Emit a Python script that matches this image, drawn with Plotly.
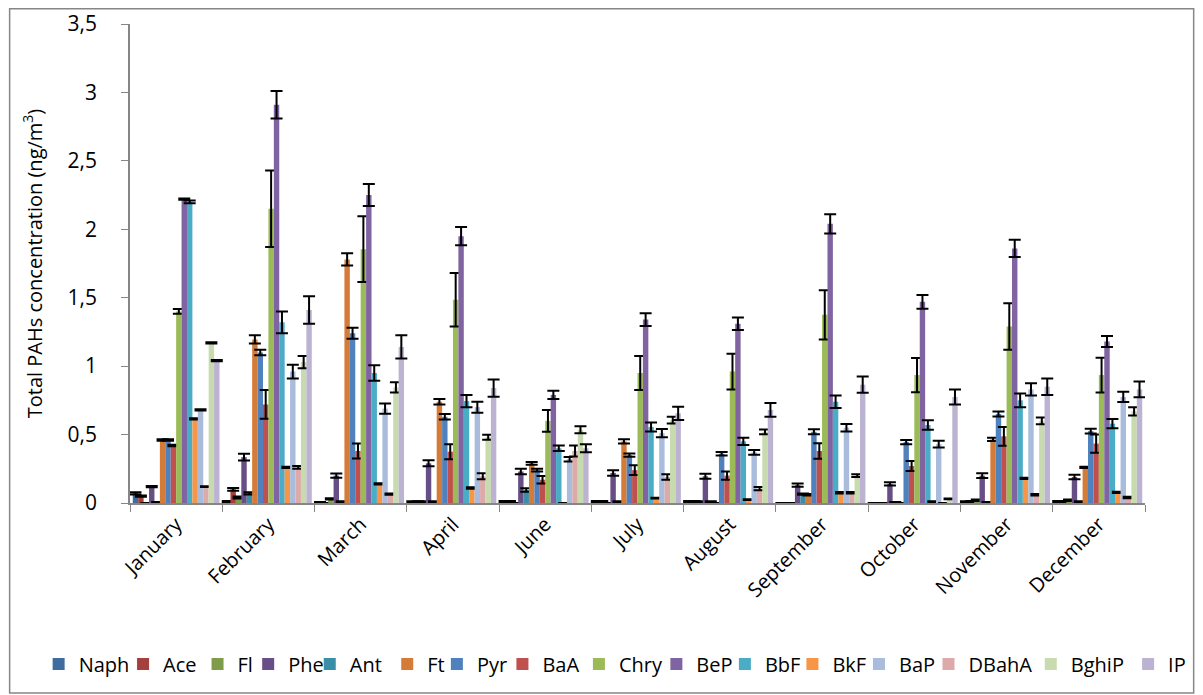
import plotly.graph_objects as go

months = ["January", "February", "March", "April", "June", "July", "August",
          "September", "October", "November", "December"]

series_names = ["Naph", "Ace", "Fl", "Phe", "Ant", "Ft", "Pyr", "BaA", "Chry",
                "BeP", "BbF", "BkF", "BaP", "DBahA", "BghiP", "IP"]

colors = ["#3F6C9E", "#A5403D", "#7E9C49", "#674F86", "#3A8FA6", "#D57B38",
          "#4F81BD", "#C0504D", "#9BBB59", "#8064A2", "#4BACC6", "#F79646",
          "#A9BCDC", "#DCAAA9", "#C8DBAE", "#BCB2D1"]

Naph = [0.07, 0.01, 0.005, 0.01, 0.01, 0.01, 0.01, 0.0, 0.0, 0.01, 0.01]
Ace = [0.05, 0.10, 0.0, 0.01, 0.01, 0.01, 0.01, 0.0, 0.0, 0.01, 0.01]
Fl = [0.0, 0.04, 0.03, 0.01, 0.0, 0.0, 0.01, 0.0, 0.0, 0.02, 0.02]
Phe = [0.12, 0.335, 0.20, 0.29, 0.23, 0.22, 0.195, 0.13, 0.14, 0.20, 0.19]
Ant = [0.005, 0.07, 0.01, 0.01, 0.095, 0.01, 0.01, 0.065, 0.005, 0.005, 0.01]
Ft = [0.46, 1.195, 1.78, 0.74, 0.29, 0.45, 0.0, 0.06, 0.0, 0.465, 0.26]
Pyr = [0.46, 1.10, 1.24, 0.63, 0.24, 0.35, 0.36, 0.52, 0.445, 0.65, 0.525]
BaA = [0.42, 0.72, 0.38, 0.375, 0.17, 0.24, 0.20, 0.38, 0.27, 0.487, 0.434]
Chry = [1.40, 2.15, 1.855, 1.485, 0.60, 0.95, 0.96, 1.375, 0.935, 1.29, 0.935]
BeP = [2.22, 2.91, 2.25, 1.95, 0.79, 1.34, 1.31, 2.04, 1.47, 1.86, 1.18]
BbF = [2.20, 1.32, 0.95, 0.745, 0.40, 0.555, 0.45, 0.74, 0.57, 0.75, 0.58]
BkF = [0.615, 0.26, 0.14, 0.11, 0.0, 0.035, 0.025, 0.075, 0.01, 0.18, 0.078]
BaP = [0.68, 0.96, 0.69, 0.70, 0.32, 0.51, 0.37, 0.55, 0.43, 0.83, 0.775]
DBahA = [0.12, 0.26, 0.065, 0.195, 0.38, 0.19, 0.105, 0.075, 0.0, 0.06, 0.04]
BghiP = [1.17, 1.03, 0.845, 0.48, 0.535, 0.605, 0.52, 0.20, 0.03, 0.60, 0.67]
IP = [1.04, 1.41, 1.14, 0.84, 0.40, 0.655, 0.68, 0.865, 0.775, 0.85, 0.83]

Naph_err = [0.008, 0.005, 0.003, 0.003, 0.005, 0.005, 0.005, 0, 0, 0.003, 0.005]
Ace_err = [0.005, 0.01, 0, 0.003, 0.005, 0.005, 0.005, 0, 0, 0.005, 0.005]
Fl_err = [0, 0.008, 0.005, 0.003, 0, 0, 0.003, 0, 0, 0.005, 0.005]
Phe_err = [0.005, 0.025, 0.015, 0.022, 0.02, 0.02, 0.018, 0.012, 0.012, 0.018, 0.017]
Ant_err = [0.003, 0.008, 0.003, 0.003, 0.012, 0.003, 0.003, 0.005, 0.003, 0.003, 0.003]
Ft_err = [0.005, 0.03, 0.045, 0.02, 0.01, 0.015, 0, 0.005, 0, 0.012, 0.005]
Pyr_err = [0.005, 0.02, 0.04, 0.02, 0.01, 0.012, 0.013, 0.018, 0.016, 0.018, 0.017]
BaA_err = [0.005, 0.105, 0.055, 0.055, 0.027, 0.035, 0.03, 0.056, 0.037, 0.068, 0.067]
Chry_err = [0.018, 0.28, 0.24, 0.195, 0.08, 0.125, 0.13, 0.18, 0.125, 0.17, 0.127]
BeP_err = [0.005, 0.10, 0.08, 0.067, 0.03, 0.046, 0.046, 0.07, 0.05, 0.063, 0.04]
BbF_err = [0.01, 0.08, 0.057, 0.045, 0.02, 0.033, 0.027, 0.045, 0.035, 0.05, 0.033]
BkF_err = [0.005, 0.005, 0.005, 0.005, 0, 0.003, 0.003, 0.005, 0.003, 0.005, 0.005]
BaP_err = [0.005, 0.05, 0.037, 0.04, 0.016, 0.03, 0.018, 0.028, 0.025, 0.045, 0.037]
DBahA_err = [0.003, 0.01, 0.005, 0.022, 0.04, 0.02, 0.012, 0.005, 0, 0.005, 0.005]
BghiP_err = [0.005, 0.045, 0.037, 0.018, 0.025, 0.025, 0.017, 0.01, 0.003, 0.025, 0.03]
IP_err = [0.005, 0.10, 0.085, 0.063, 0.03, 0.048, 0.05, 0.06, 0.055, 0.06, 0.057]

values = [Naph, Ace, Fl, Phe, Ant, Ft, Pyr, BaA, Chry, BeP, BbF, BkF, BaP, DBahA, BghiP, IP]
errors = [Naph_err, Ace_err, Fl_err, Phe_err, Ant_err, Ft_err, Pyr_err, BaA_err, Chry_err,
          BeP_err, BbF_err, BkF_err, BaP_err, DBahA_err, BghiP_err, IP_err]

# screen pixel x where each legend label starts (layout only)
legend_text_px = [74, 159, 234, 285, 347, 425, 475, 541, 618, 696, 765, 833, 900, 970, 1073, 1171]

font_main = "Open Sans, Liberation Sans, Arial, sans-serif"

OFF = 8  # page body margin
W, H = 1203 - OFF, 695 - OFF
PL = 130 - OFF
PT = 24 - OFF
PR = W - (1152 - OFF)
PB = H - (503 - OFF)
plot_w = W - PL - PR
plot_h = H - PT - PB
y0_px = 503 - OFF


def px_to_paper_x(px):
    return (px - OFF - PL) / plot_w


def px_to_paper_y(py):
    return (y0_px - (py - OFF)) / plot_h


fig = go.Figure()
legend_layouts = {}
for i, (name, vals, errs, col) in enumerate(zip(series_names, values, errors, colors)):
    lg = "legend" if i == 0 else f"legend{i + 1}"
    fig.add_trace(go.Bar(
        name=name, x=months, y=vals, legend=lg,
        marker=dict(color=col, line=dict(width=0)),
        error_y=dict(type="data", array=errs, visible=True, color="black",
                     thickness=2, width=6),
    ))
    legend_layouts[lg] = dict(
        orientation="h", x=px_to_paper_x(legend_text_px[i] - 36), xanchor="left",
        y=px_to_paper_y(664), yanchor="middle",
        font=dict(family=font_main, size=20), itemwidth=30, bgcolor="rgba(0,0,0,0)",
    )

fig.update_layout(
    width=W, height=H,
    barmode="group", bargap=0.06, bargroupgap=0,
    paper_bgcolor="white", plot_bgcolor="white",
    separators=", ",
    margin=dict(l=PL, r=PR, t=PT, b=PB),
    font=dict(family=font_main, color="black", size=20),
    showlegend=True,
    xaxis=dict(showline=True, linecolor="#868686", linewidth=1.5, ticks="outside",
               tickson="boundaries", ticklen=7, tickcolor="#868686", tickangle=-45,
               tickfont=dict(size=20), showgrid=False, automargin=False),
    yaxis=dict(range=[0, 3.5], dtick=0.5, showline=True, linecolor="#868686", linewidth=1.5,
               ticks="outside", ticklen=7, tickcolor="#868686", showgrid=False,
               zeroline=False, tickfont=dict(size=21), ticklabelstandoff=20, automargin=False,
               title=dict(text="Total PAHs concentration (ng/m<sup>3</sup>)",
                          font=dict(size=20), standoff=20)),
    shapes=[dict(type="rect", xref="paper", yref="paper",
                 x0=px_to_paper_x(8.8), x1=px_to_paper_x(1201),
                 y0=px_to_paper_y(693), y1=px_to_paper_y(8.8),
                 line=dict(color="#868686", width=1.5),
                 fillcolor="rgba(0,0,0,0)", layer="below")],
    **legend_layouts,
)

fig.write_html("out.html")
